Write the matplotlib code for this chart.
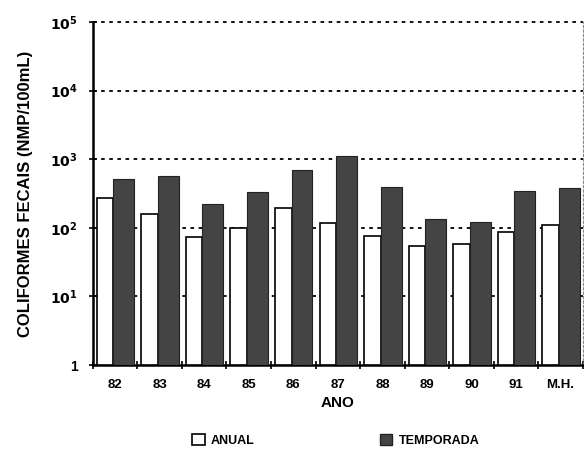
import numpy as np
import matplotlib.pyplot as plt
from matplotlib.patches import Patch

# valores (NMP/100mL)
anos = ['82', '83', '84', '85', '86', '87', '88', '89', '90', '91', 'M.H.']
anual = [270, 158, 73, 98, 194, 117, 76, 54, 58, 87, 110]
temporada = [515, 569, 222, 333, 695, 1110, 394, 134, 122, 345, 380]
yticks = [1, 10, 100, 1000, 10000, 100000]
ytick_labels = ['1', r'$\mathbf{10^{1}}$', r'$\mathbf{10^{2}}$', r'$\mathbf{10^{3}}$',
                r'$\mathbf{10^{4}}$', r'$\mathbf{10^{5}}$']

plt.rcParams['font.family'] = ['Liberation Sans', 'DejaVu Sans']
plt.rcParams['font.weight'] = 'bold'
plt.rcParams['axes.labelweight'] = 'bold'

fig = plt.figure(figsize=(5.84, 4.58), dpi=100)
ax = fig.add_axes([0.159, 0.203, 0.839, 0.749])

x = np.arange(len(anos))
ax.bar(x - 0.41, anual, width=0.37, align='edge', bottom=1,
       facecolor='white', edgecolor='black', linewidth=1.2, zorder=3)
ax.bar(x - 0.04, temporada, width=0.47, align='edge', bottom=1,
       facecolor='#444444', edgecolor='#222222', linewidth=0.8, zorder=3)

ax.set_yscale('log')
ax.set_ylim(1, 100000)
ax.set_xlim(-0.5, len(anos) - 0.5)
ax.set_yticks(yticks)
ax.set_yticklabels(ytick_labels, fontsize=10)
ax.yaxis.set_minor_locator(plt.NullLocator())
ax.tick_params(axis='y', direction='inout', length=6, width=1.2, pad=8)

ax.set_xticks(x)
ax.set_xticklabels(anos, fontsize=9.5)
ax.set_xticks(np.arange(len(anos) + 1) - 0.5, minor=True)
ax.tick_params(axis='x', which='major', length=0, pad=10)
ax.tick_params(axis='x', which='minor', direction='inout', length=6, width=1.2)

for y in yticks[1:]:
    ax.axhline(y, color='black', linestyle=(0, (2, 2.5)), linewidth=1.3,
               zorder=1, clip_on=False)

ax.spines['top'].set_visible(False)
ax.spines['left'].set_linewidth(1.8)
ax.spines['bottom'].set_linewidth(1.8)
ax.spines['right'].set_linestyle((0, (2, 2)))
ax.spines['right'].set_color('#888888')
ax.spines['right'].set_linewidth(0.8)

ax.set_xlabel('ANO', fontsize=11, labelpad=4)
ax.set_ylabel('COLIFORMES FECAIS (NMP/100mL)', fontsize=12, labelpad=12)

handles = [Patch(facecolor='white', edgecolor='black', linewidth=1.2),
           Patch(facecolor='#444444', edgecolor='#222222')]
fig.legend(handles, ['ANUAL', 'TEMPORADA'], loc='lower left',
           bbox_to_anchor=(0.31, 0.0), ncol=2, frameon=False, fontsize=9,
           columnspacing=10, handlelength=1.0, handleheight=1.0, handletextpad=0.5)

fig.savefig('out.png', dpi=100)
